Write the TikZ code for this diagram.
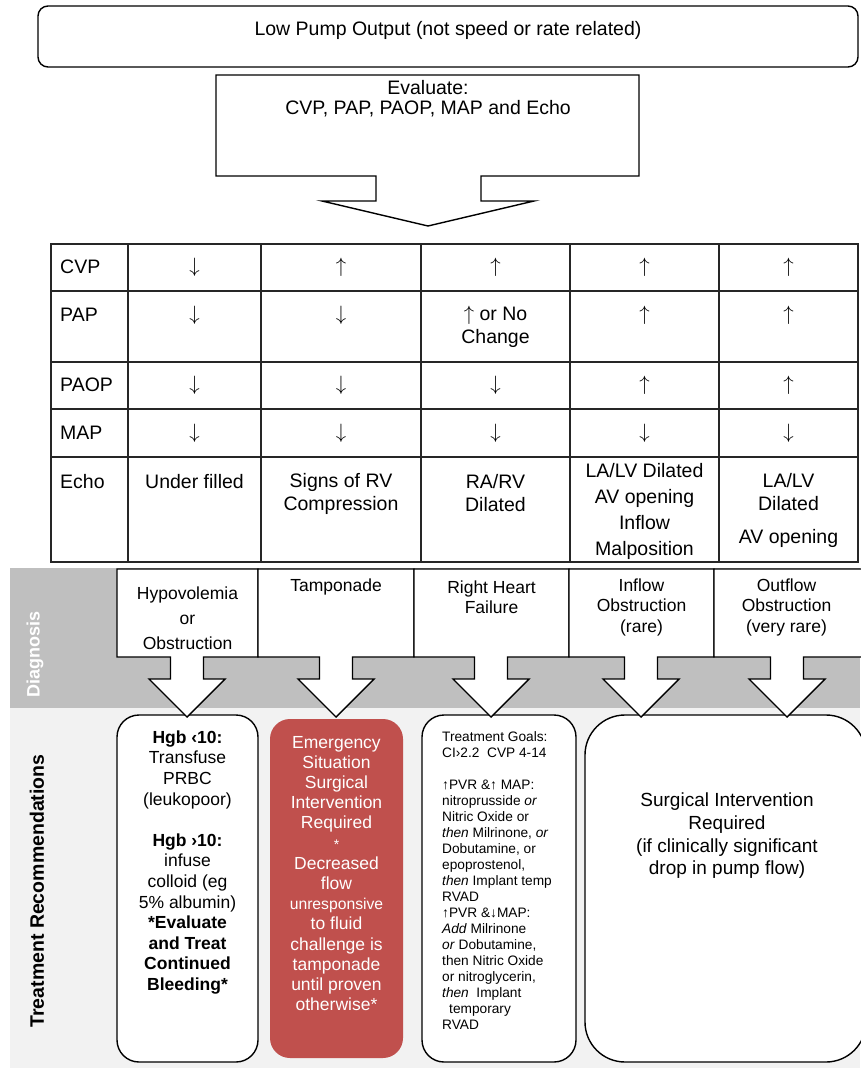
\documentclass[tikz,border=0pt]{standalone}
\usepackage{fontspec}
\setmainfont{Liberation Sans}
\definecolor{emred}{HTML}{C0504D}
\newcommand{\dn}{$\downarrow$}
\newcommand{\upa}{$\uparrow$}
\begin{document}
\begin{tikzpicture}[x=1pt,y=-1pt]
\tikzstyle{txt}= [inner sep=0pt,align=center,font=\fontsize{19.5}{23}\selectfont]
\tikzstyle{dg}= [inner sep=0pt,align=center,font=\fontsize{17.5}{20.5}\selectfont]
\tikzstyle{outl}= [draw=black,line width=1.4pt,fill=white]
\tikzstyle{grid}= [draw=black!85,line width=1.2pt]
\tikzstyle{treat}= [outl,rounded corners=22pt]

\useasboundingbox (0,0) rectangle (860,1068);

% background bands
\fill[black!25] (10,568) rectangle (860,708);
\fill[black!5] (10,708) rectangle (860,1068);

% top
\draw[outl,rounded corners=10pt] (38,6) rectangle (858,67);
\node[txt] (low) at (448,30) {Low Pump Output (not speed or rate related)};
\draw[outl] (216,75) -- (639,75) -- (639,176) -- (481,176) -- (481,201) -- (534,201)
	-- (428,226) -- (322,201) -- (376,201) -- (376,176) -- (216,176) -- cycle;
\node[txt,font=\fontsize{19.5}{20}\selectfont] (eval) at (428,99) {Evaluate:\\CVP, PAP, PAOP, MAP and Echo};

% table
\draw[grid] (51,244) rectangle (858,562);
\foreach \y in {291,362,409,457} \draw[grid] (51,\y) -- (858,\y);
\foreach \x in {128,261,421,570,719} \draw[grid] (\x,244) -- (\x,562);

\path
	(60,267) node[txt,anchor=west] (cvp) {CVP}
	(194.5,267) node[txt] (cvp1) {\dn}
	(341,267) node[txt] (cvp2) {\upa}
	(495.5,267) node[txt] (cvp3) {\upa}
	(644.5,267) node[txt] (cvp4) {\upa}
	(788.5,267) node[txt] (cvp5) {\upa}
	(60,315) node[txt,anchor=west] (pap) {PAP}
	(194.5,315) node[txt] (pap1) {\dn}
	(341,315) node[txt] (pap2) {\dn}
	(495.5,326.5) node[txt] (pap3) {\upa{} or No\\Change}
	(644.5,315) node[txt] (pap4) {\upa}
	(788.5,315) node[txt] (pap5) {\upa}
	(60,385) node[txt,anchor=west] (paop) {PAOP}
	(194.5,385) node[txt] (paop1) {\dn}
	(341,385) node[txt] (paop2) {\dn}
	(495.5,385) node[txt] (paop3) {\dn}
	(644.5,385) node[txt] (paop4) {\upa}
	(788.5,385) node[txt] (paop5) {\upa}
	(60,433) node[txt,anchor=west] (map) {MAP}
	(194.5,433) node[txt] (map1) {\dn}
	(341,433) node[txt] (map2) {\dn}
	(495.5,433) node[txt] (map3) {\dn}
	(644.5,433) node[txt] (map4) {\dn}
	(788.5,433) node[txt] (map5) {\dn}
	(60,482) node[txt,anchor=west] (echo) {Echo}
	(194.5,482) node[txt] (echo1) {Under filled}
	(341,493.5) node[txt] (echo2) {Signs of RV\\Compression}
	(495.5,493.5) node[txt] (echo3) {RA/RV\\Dilated}
	(644.5,511) node[txt,font=\fontsize{19.5}{26}\selectfont] (echo4) {LA/LV Dilated\\AV opening\\Inflow\\Malposition}
	(788.5,510) node[txt] (echo5) {LA/LV\\Dilated\\[10pt]AV opening}
;

% treatment boxes
\draw[treat] (117,715) rectangle (258,1062);
\fill[emred,rounded corners=20pt] (270,719) rectangle (403,1058);
\draw[treat] (422,715) rectangle (576,1062);
\draw[outl,rounded corners=40pt] (585,715) rectangle (866,1062);

% diagnosis callouts
\foreach \xl/\xr/\c in {117/258/187,258/414/336,414/569/491,569/714/641,714/862/787}
	\draw[outl] (\xl,569) -- (\xr,569) -- (\xr,657) -- (\c+16.5,657) -- (\c+16.5,679) -- (\c+38,679)
		-- (\c,717) -- (\c-38,679) -- (\c-16.5,679) -- (\c-16.5,657) -- (\xl,657) -- cycle;

\path
	(187.5,618) node[dg,font=\fontsize{17.5}{25}\selectfont] (hypo) {Hypovolemia\\or\\Obstruction}
	(336,587) node[dg] (tamp) {Tamponade}
	(491.5,597) node[dg] (rhf) {Right Heart\\Failure}
	(641.5,607) node[dg] (inflow) {Inflow\\Obstruction\\(rare)}
	(786.5,607) node[dg] (outflow) {Outflow\\Obstruction\\(very rare)}
;

\node[dg,font=\fontsize{17.5}{20.6}\selectfont] (hgb) at (187.5,862.5)
	{\textbf{Hgb ‹10:}\\Transfuse\\PRBC\\(leukopoor)\\[20.6pt]\textbf{Hgb ›10:}\\infuse\\colloid (eg\\5\% albumin)\\
	\textbf{*Evaluate}\\\textbf{and Treat}\\\textbf{Continued}\\\textbf{Bleeding*}};
\node[dg,text=white,font=\fontsize{17.5}{20.2}\selectfont] (emerg) at (336.5,873.5)
	{Emergency\\Situation\\Surgical\\Intervention\\Required\\{\fontsize{14}{14}\selectfont *}\\Decreased\\flow\\
	{\fontsize{15.7}{20.2}\selectfont unresponsive}\\to fluid\\challenge is\\tamponade\\until proven\\otherwise*};
\node[inner sep=0pt,align=left,anchor=west,font=\fontsize{13.7}{15.95}\selectfont] (goals) at (442,880.5)
	{Treatment Goals:\\CI›2.2\ \ CVP 4-14\\[15.95pt]↑PVR \&↑ MAP:\\nitroprusside \textit{or}\\Nitric Oxide or\\
	\textit{then} Milrinone, \textit{or}\\Dobutamine, or\\epoprostenol,\\\textit{then} Implant temp\\RVAD\\
	↑PVR \&↓MAP:\\\textit{Add} Milrinone\\\textit{or} Dobutamine,\\then Nitric Oxide\\or nitroglycerin,\\
	\textit{then}\ \ Implant\\\hspace*{7pt}temporary\\RVAD};
\node[txt,font=\fontsize{19}{22.7}\selectfont] (surg) at (727,836)
	{Surgical Intervention\\Required\\(if clinically significant\\drop in pump flow)};

% side labels
\node[rotate=90,text=white,font=\bfseries\fontsize{18}{20}\selectfont] (diaglbl) at (35,654) {Diagnosis};
\node[rotate=90,font=\bfseries\fontsize{19.5}{22}\selectfont] (treatlbl) at (37,891) {Treatment Recommendations};
\end{tikzpicture}
\end{document}
